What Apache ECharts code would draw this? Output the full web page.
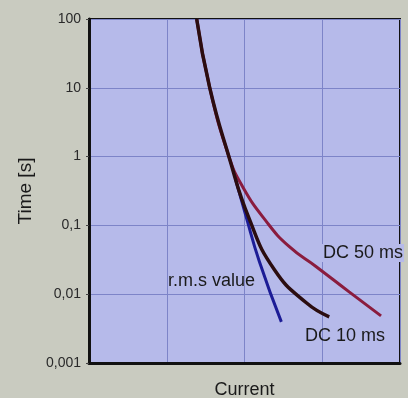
<!DOCTYPE html>
<html>
<head>
    <meta charset="utf-8">
    <title>Time / Current</title>
    <script src="https://cdn.jsdelivr.net/npm/echarts@6/dist/echarts.min.js"></script>
    <style type="text/css">
        *{margin: 0;padding: 0;}
        body{background: #c9cbc0;overflow: hidden;}
    </style>
</head>
<body>
<div id="main" style="width: 408px;height: 398px;"></div>
<script type="text/javascript">
    // values: current (relative units, 0..4) and time [s]
    var dc10Current = [1.385, 1.551, 1.795, 2.064, 2.385, 2.795, 3.090];
    var dc10Time    = [100, 10.2, 1.04, 0.122, 0.0227, 0.0075, 0.0047];
    var dc50Current = [1.385, 1.551, 1.795, 1.974, 2.282, 2.577, 2.923, 3.346, 3.756];
    var dc50Time    = [100, 10.2, 1.04, 0.368, 0.1135, 0.049, 0.0251, 0.0108, 0.00484];
    var rmsCurrent  = [1.885, 2.013, 2.192, 2.474];
    var rmsTime     = [0.466, 0.144, 0.0297, 0.00396];
    var yTicks = [0.001, 0.01, 0.1, 1, 10, 100];

    function pairs(xs, ys){
        var out = [];
        for(var i = 0;i < xs.length;i++){
            out.push([xs[i], ys[i]]);
        }
        return out;
    }

    var myChart = echarts.init(document.getElementById('main'));
    var option = {
        backgroundColor: '#c9cbc0',
        animation: false,
        grid: {
            left: 89,
            right: 8,
            top: 19,
            bottom: 35,
            outerBoundsMode: 'none',
            show: true,
            backgroundColor: '#b6baea',
            borderColor: '#111',
            borderWidth: 2
        },
        xAxis: {
            type: 'value',
            min: 0,
            max: 4,
            interval: 1,
            name: 'Current',
            nameLocation: 'middle',
            nameGap: 18,
            nameTextStyle: {fontFamily: 'Liberation Sans', fontSize: 18, color: '#1a1a1a'},
            axisLine: {show: true, lineStyle: {color: '#111', width: 3}},
            axisTick: {show: false},
            axisLabel: {show: false},
            splitLine: {show: true, lineStyle: {color: '#7d84c8', width: 1}}
        },
        yAxis: {
            type: 'log',
            logBase: 10,
            min: yTicks[0],
            max: yTicks[yTicks.length - 1],
            name: 'Time [s]',
            nameLocation: 'middle',
            nameGap: 50,
            nameRotate: 90,
            nameTextStyle: {fontFamily: 'Liberation Sans', fontSize: 19, color: '#1a1a1a'},
            axisLine: {show: true, lineStyle: {color: '#111', width: 3}},
            axisTick: {show: true, inside: false, length: 3, lineStyle: {color: '#444'}},
            axisLabel: {
                fontFamily: 'Liberation Sans',
                fontSize: 14,
                color: '#2a2a2a',
                margin: 8,
                formatter: function(v){
                    return String(v).replace('.', ',');
                }
            },
            splitLine: {show: true, lineStyle: {color: '#7d84c8', width: 1}}
        },
        series: [
            {
                name: 'DC 50 ms',
                type: 'line',
                smooth: 0.5,
                symbol: 'none',
                lineStyle: {color: '#8a1c3e', width: 3},
                data: pairs(dc50Current, dc50Time)
            },
            {
                name: 'r.m.s value',
                type: 'line',
                smooth: 0.5,
                symbol: 'none',
                lineStyle: {color: '#1c1c96', width: 3},
                data: pairs(rmsCurrent, rmsTime)
            },
            {
                name: 'DC 10 ms',
                type: 'line',
                smooth: 0.5,
                symbol: 'none',
                lineStyle: {color: '#2b0d10', width: 3.5},
                data: pairs(dc10Current, dc10Time)
            }
        ],
        graphic: [
            {type: 'text', left: 168, top: 272, z: 100,
                style: {text: 'r.m.s value', font: '18px "Liberation Sans"', fill: '#1a1a1a'}},
            {type: 'text', left: 322, top: 244, z: 100,
                style: {text: 'DC 50 ms', font: '18px "Liberation Sans"', fill: '#1a1a1a', backgroundColor: '#b6baea', padding: [0, 1]}},
            {type: 'text', left: 305, top: 327, z: 100,
                style: {text: 'DC 10 ms', font: '18px "Liberation Sans"', fill: '#1a1a1a'}}
        ]
    };
    myChart.setOption(option);
</script>
</body>
</html>
